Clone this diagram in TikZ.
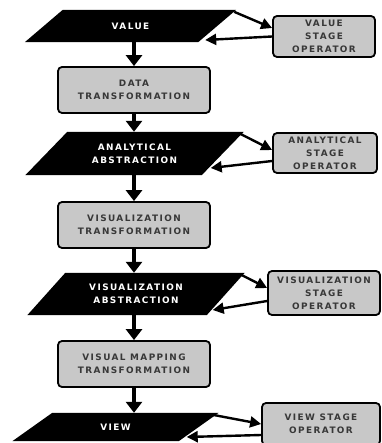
\documentclass[tikz,border=0pt]{standalone}
\usepackage{fontspec}
\newfontfamily\lblfont[LetterSpace=16]{DejaVu Sans}
\usetikzlibrary{arrows.meta,backgrounds}
\definecolor{boxfill}{HTML}{C8C8C8}
\definecolor{boxtext}{HTML}{383838}
\tikzset{
  lbl/.style={font=\lblfont\bfseries\fontsize{8.9}{13}\selectfont, align=center, inner sep=0pt},
  opbox/.style={lbl, draw=black, line width=1.8pt, rounded corners=4pt, fill=boxfill, text=boxtext},
  transbox/.style={opbox, minimum width=152pt, minimum height=46pt},
  abstr/.style={lbl, text=white},
  down/.style={line width=4.5pt, -{Triangle[width=16pt,length=11pt]}},
  side/.style={line width=2.4pt, -{Triangle[width=11pt,length=11pt]}},
}
% fill a slanted abstraction shape behind the node #1, half slant #2
\newcommand\abstrshape[2]{%
  \fill ([xshift=#2]#1.north west) -- ([xshift=#2]#1.north east)
     -- ([xshift=-#2]#1.south east) -- ([xshift=-#2]#1.south west) -- cycle;}
\begin{document}
\begin{tikzpicture}[x=1pt,y=-1pt]
\useasboundingbox (0,0) rectangle (381,443);

% abstraction stages
\node[abstr, minimum width=173pt, minimum height=32pt] (val)  at (130.5,26)  {VALUE};
\node[abstr, minimum width=176pt, minimum height=43pt] (ana)  at (134.5,153.5) {ANALYTICAL\\ABSTRACTION};
\node[abstr, minimum width=179pt, minimum height=42pt] (visa) at (136,294)   {VISUALIZATION\\ABSTRACTION};
\node[abstr, minimum width=166pt, minimum height=28pt] (view) at (115.5,427) {VIEW};

\begin{scope}[on background layer]
  \abstrshape{val}{19pt}
  \abstrshape{ana}{21pt}
  \abstrshape{visa}{19pt}
  \abstrshape{view}{20pt}
\end{scope}

% transformations
\node[transbox] (dt)  at (134,90)  {DATA\\TRANSFORMATION};
\node[transbox] (vt)  at (134,225) {VISUALIZATION\\TRANSFORMATION};
\node[transbox] (vmt) at (134,364) {VISUAL MAPPING\\TRANSFORMATION};

% stage operators
\node[opbox, minimum width=102pt, minimum height=41pt] (vop)    at (324,36.5) {VALUE\\STAGE\\OPERATOR};
\node[opbox, minimum width=104pt, minimum height=40pt] (aop)    at (325,153)  {ANALYTICAL\\STAGE\\OPERATOR};
\node[opbox, minimum width=112pt, minimum height=44pt] (visop)  at (324,293)  {VISUALIZATION\\STAGE\\OPERATOR};
\node[opbox, minimum width=118pt, minimum height=42pt] (viewop) at (321,424)  {VIEW STAGE\\OPERATOR};

% main pipeline
\draw[down] (dt.north |- val.south) -- (dt.north);
\draw[down] (dt.south) -- (dt.south |- ana.north);
\draw[down] (vt.north |- ana.south) -- (vt.north);
\draw[down] (vt.south) -- (vt.south |- visa.north);
\draw[down] (vmt.north |- visa.south) -- (vmt.north);
\draw[down] (vmt.south) -- (vmt.south |- view.north);

% operator loops
\draw[side] ([xshift=17pt,yshift=-2pt]val.north east) -- ([yshift=8.5pt]vop.west);
\draw[side] (vop.west) -- ([xshift=-12pt,yshift=-14pt]val.east);

\draw[side] ([xshift=17.5pt,yshift=-2pt]ana.north east) -- ([yshift=3pt]aop.west);
\draw[side] ([yshift=-8pt]aop.west) -- ([xshift=-12pt,yshift=-14.5pt]ana.east);

\draw[side] ([xshift=15.5pt,yshift=-2pt]visa.north east) -- ([yshift=5pt]visop.west);
\draw[side] ([yshift=-8pt]visop.west) -- ([xshift=-13pt,yshift=-16pt]visa.east);

\draw[side] ([xshift=14pt,yshift=-2pt]view.north east) -- (viewop.west);
\draw[side] ([yshift=-11pt]viewop.west) -- ([xshift=-12pt,yshift=-10pt]view.east);
\end{tikzpicture}
\end{document}
